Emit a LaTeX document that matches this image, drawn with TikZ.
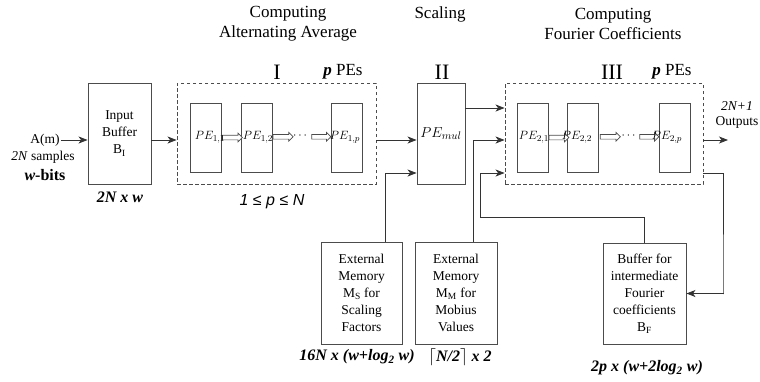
\documentclass[tikz,border=0pt]{standalone}
\usepackage{fontspec}
\setmainfont{Liberation Serif}
\newfontfamily\lsans{Liberation Sans}
\usetikzlibrary{arrows.meta,shapes.arrows,calc}
\begin{document}
\begin{tikzpicture}[x=1pt,y=-1pt,
  box/.style={draw=black!70, line width=0.9pt, inner sep=0pt, align=center, font=\fontsize{13.5}{17}\selectfont},
  dbox/.style={draw=black!70, line width=0.9pt, dash pattern=on 3.5pt off 2.5pt, inner sep=0pt},
  pebox/.style={draw=black!70, line width=0.9pt, inner sep=0pt, minimum width=31pt, minimum height=69pt},
  conn/.style={draw=black!80, line width=0.8pt},
  arr/.style={conn, -{Stealth[length=9pt,width=7pt,inset=2.5pt]}},
  hol/.style={single arrow, draw=black!70, line width=0.7pt, fill=white, minimum height=#1, minimum width=8pt, single arrow head extend=2pt, inner sep=2pt},
  pel/.style={font=\fontsize{12.5}{14}\selectfont, inner sep=0pt},
  title/.style={font=\fontsize{17}{20}\selectfont, align=center},
  roman/.style={font=\fontsize{22}{24}\selectfont, inner sep=0pt},
  ppes/.style={font=\fontsize{17}{20}\selectfont, inner sep=0pt},
  sizel/.style={font=\fontsize{16}{19}\selectfont\bfseries\itshape, inner sep=0pt},
  lab/.style={font=\fontsize{13.5}{15.5}\selectfont, inner sep=1pt, align=center},
]
\useasboundingbox (0,0) rectangle (760,381);
% titles
\node[title] (t1) at (288,24) {Computing\\Alternating Average};
\node[title] (t2) at (440,14) {Scaling};
\node[title] (t3) at (613,24) {Computing\\Fourier Coefficients};
\node[roman] (r1) at (277,72) {I};
\node[roman] (r2) at (442,72) {II};
\node[roman] (r3) at (612,72) {III};
\node[ppes] (pp1) at (343,72) {\textbf{\textit{p}} PEs};
\node[ppes] (pp3) at (672,72) {\textbf{\textit{p}} PEs};
% input
\node[lab] (am) at (45,140) {A(m)};
\node[lab] (ns) at (43,157) {\textit{2N} samples};
\node[font=\fontsize{16}{19}\selectfont\bfseries, inner sep=0pt] (wb) at (45,175) {\textit{w}-bits};
\node[box, minimum width=63pt, minimum height=101pt] (ib) at (119.5,133.5) {Input\\Buffer\\B$_{\mathrm{I}}$};
\node[sizel] (ibs) at (120,197) {2N x w};
% stage I
\node[dbox, minimum width=199pt, minimum height=101pt] (d1) at (276.5,133.5) {};
\node[pebox] (p11) at (205.5,137.5) {};
\node[pebox] (p12) at (257,137.5) {};
\node[pebox] (p1p) at (347,137.5) {};
\node[inner sep=0pt, font=\fontsize{13}{14}\selectfont] (dd1) at (300,136) {$\cdots$};
\node[hol=20pt] (h11) at ($(p11.east)!.5!(p12.west)$) {};
\node[hol=20pt] (h12) at ($(p12.east)!.5!(dd1.west)+(-1,0)$) {};
\node[hol=19pt] (h13) at ($(dd1.east)!.5!(p1p.west)+(1,0)$) {};
\node[pel] (l11) at (210,137.5) {$PE_{1,1}$};
\node[pel] (l12) at (258,137.5) {$PE_{1,2}$};
\node[pel] (l1p) at (345,137.5) {$PE_{1,p}$};
\node[font=\fontsize{16}{19}\selectfont\lsans\itshape, inner sep=0pt] (pn) at (272,202) {1 ≤ p ≤ N};
% stage II
\node[box, minimum width=48pt, minimum height=101pt, font=\fontsize{15.5}{17}\selectfont] (pm) at (441,133.5) {$PE_{mul}$};
% stage III
\node[dbox, minimum width=198pt, minimum height=101pt] (d3) at (604,133.5) {};
\node[pebox] (p21) at (532.5,137.5) {};
\node[pebox] (p22) at (583,137.5) {};
\node[pebox] (p2p) at (674.5,137.5) {};
\node[inner sep=0pt, font=\fontsize{13}{14}\selectfont] (dd3) at (628.5,136) {$\cdots$};
\node[hol=20pt] (h21) at ($(p21.east)!.5!(p22.west)$) {};
\node[hol=20pt] (h22) at ($(p22.east)!.5!(dd3.west)+(-1,0)$) {};
\node[hol=19pt] (h23) at ($(dd3.east)!.5!(p2p.west)+(1,0)$) {};
\node[pel] (l21) at (534,137.5) {$PE_{2,1}$};
\node[pel] (l22) at (577,137.5) {$PE_{2,2}$};
\node[pel] (l2p) at (667,137.5) {$PE_{2,p}$};
\node[lab] (outl) at (737,115) {\textit{2N+1}\\Outputs};
% memories
\node[box, minimum width=81pt, minimum height=102pt] (ms) at (361.5,293) {External\\Memory\\M$_{\mathrm{S}}$ for\\Scaling\\Factors};
\node[box, minimum width=82pt, minimum height=102pt] (mm) at (456,293) {External\\Memory\\M$_{\mathrm{M}}$ for\\Mobius\\Values};
\node[box, minimum width=83pt, minimum height=101pt] (bf) at (644.5,293.5) {Buffer for\\intermediate\\Fourier\\coefficients\\B$_{\mathrm{F}}$};
\node[sizel] (mss) at (357,357) {16N x (w+log\textsubscript{2} w)};
\node[sizel] (mms) at (460,357) {$\lceil$N/2$\rceil$ x 2};
\node[sizel] (bfs) at (647,368) {2p x (w+2log\textsubscript{2} w)};
% coordinates
\coordinate (y140) at (0,140);
\coordinate (y173) at (0,173);
\coordinate (y108) at (0,108);
\coordinate (k) at (480,217);
\coordinate (fb) at (723,294);
\coordinate (out) at (728,140);
% connectors
\draw[arr] (am.east) -- (am.east -| ib.west);
\draw[arr] (ib.east |- y140) -- (d1.west |- y140);
\draw[arr] (d1.east |- y140) -- (pm.west |- y140);
\draw[arr] ([xshift=23.5pt]ms.north) |- (pm.west |- y173);
\draw[arr] (pm.east |- y108) -- (d3.west |- y108);
\draw[arr] ([xshift=17pt]mm.north) |- (d3.west |- y140);
\draw[arr] (bf.north) |- (k) |- (d3.west |- y173);
\draw[arr] (d3.east |- y140) -- (out);
\draw[arr] (d3.east |- y173) -| (fb) |- (bf.east);
\end{tikzpicture}
\end{document}
